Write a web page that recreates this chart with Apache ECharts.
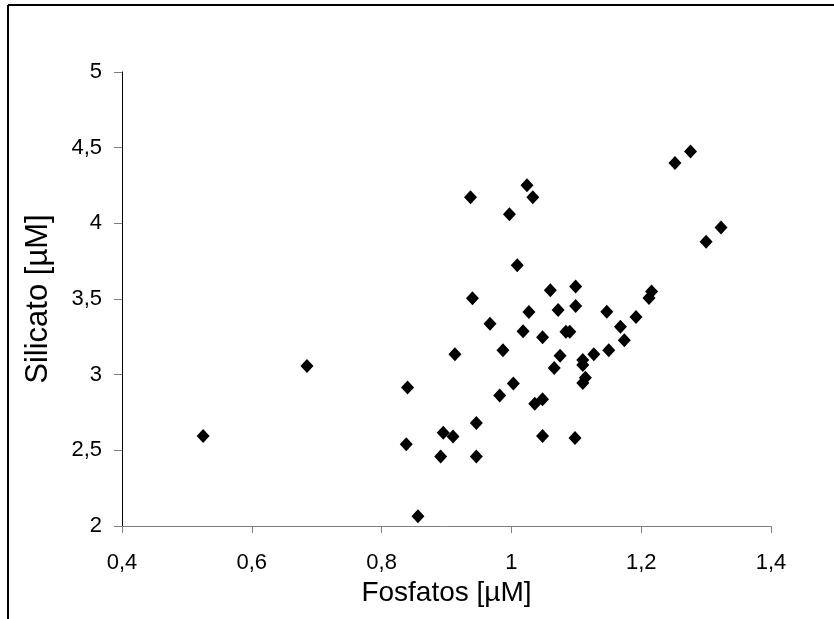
<!DOCTYPE html>
<html>
<head>
<meta charset="utf-8">
<script src="https://cdn.jsdelivr.net/npm/echarts@6/dist/echarts.min.js"></script>
<style>
html,body{margin:0;padding:0;background:#fff;}
#c{width:834px;height:619px;}
</style>
</head>
<body>
<div id="c"></div>
<script>
// Fosfatos [µM] (x) and Silicato [µM] (y)
const fosfatos = [
  0.525, 0.685, 0.840, 0.838, 0.856, 0.891, 0.895, 0.910, 0.913, 0.937,
  0.940, 0.946, 0.946, 0.967, 0.987, 0.982, 0.997, 1.003, 1.009, 1.018,
  1.024, 1.027, 1.033, 1.036, 1.048, 1.048, 1.048, 1.060, 1.066, 1.072,
  1.075, 1.084, 1.090, 1.099, 1.099, 1.098, 1.110, 1.110, 1.110, 1.114,
  1.127, 1.147, 1.150, 1.168, 1.174, 1.192, 1.212, 1.216, 1.252, 1.276,
  1.300, 1.323
];
const silicato = [
  2.594, 3.057, 2.916, 2.541, 2.065, 2.460, 2.617, 2.591, 3.135, 4.172,
  3.505, 2.680, 2.460, 3.337, 3.161, 2.863, 4.060, 2.942, 3.723, 3.287,
  4.252, 3.414, 4.172, 2.808, 3.247, 2.837, 2.594, 3.558, 3.044, 3.428,
  3.125, 3.284, 3.284, 3.582, 3.454, 2.581, 3.097, 3.064, 2.945, 2.980,
  3.135, 3.416, 3.161, 3.317, 3.227, 3.381, 3.507, 3.549, 4.399, 4.474,
  3.878, 3.972
];
const xTicks = {min: 0.4, max: 1.4, interval: 0.2};
const yTicks = {min: 2, max: 5, interval: 0.5};
const xTitle = 'Fosfatos [\u00b5M]';
const yTitle = 'Silicato [\u00b5M]';

const fmt = v => String(Math.round(v * 10) / 10).replace('.', ',');
const points = fosfatos.map((x, i) => [x, silicato[i]]);
const FONT = '"Liberation Sans", Arial, sans-serif';

const chart = echarts.init(document.getElementById('c'), null, {renderer: 'canvas'});
chart.setOption({
  animation: false,
  backgroundColor: '#fff',
  grid: {left: 122, right: 63, top: 72, bottom: 93, containLabel: false},
  xAxis: {
    type: 'value',
    min: xTicks.min, max: xTicks.max, interval: xTicks.interval,
    name: xTitle, nameLocation: 'middle', nameGap: 50,
    nameTextStyle: {fontFamily: FONT, fontSize: 28, color: '#000'},
    axisLine: {show: true, onZero: false, lineStyle: {color: '#808080', width: 1}},
    axisTick: {show: true, inside: false, length: 7, lineStyle: {color: '#808080'}},
    axisLabel: {formatter: fmt, fontFamily: FONT, fontSize: 22, color: '#000', margin: 26},
    splitLine: {show: false}
  },
  yAxis: {
    type: 'value',
    min: yTicks.min, max: yTicks.max, interval: yTicks.interval,
    name: yTitle, nameLocation: 'middle', nameGap: 68,
    nameTextStyle: {fontFamily: FONT, fontSize: 31, color: '#000'},
    axisLine: {show: true, onZero: false, lineStyle: {color: '#000', width: 1}},
    axisTick: {show: true, inside: false, length: 8, lineStyle: {color: '#808080'}},
    axisLabel: {formatter: fmt, fontFamily: FONT, fontSize: 22, color: '#000', margin: 20},
    splitLine: {show: false}
  },
  graphic: [
    {type: 'line', shape: {x1: 8, y1: 5, x2: 834, y2: 5}, style: {stroke: '#000', lineWidth: 2}, z: 10},
    {type: 'line', shape: {x1: 8, y1: 5, x2: 8, y2: 619}, style: {stroke: '#000', lineWidth: 2}, z: 10}
  ],
  series: [{
    type: 'scatter',
    data: points,
    symbol: 'diamond',
    symbolSize: [13, 14],
    itemStyle: {color: '#000', opacity: 1},
    emphasis: {disabled: true}
  }]
});
</script>
</body>
</html>
